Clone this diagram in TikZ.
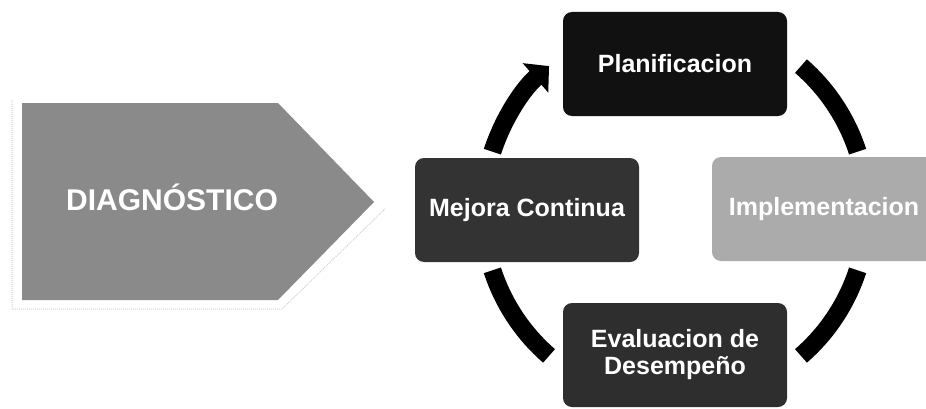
\documentclass[tikz,border=0pt]{standalone}
\usepackage{fontspec}
\setmainfont{Liberation Sans}
\usetikzlibrary{arrows.meta}

\definecolor{diaggray}{HTML}{8A8A8A}
\definecolor{planblack}{HTML}{111111}
\definecolor{mejoragray}{HTML}{333333}
\definecolor{implgray}{HTML}{ABABAB}
\definecolor{evalgray}{HTML}{2E2E2E}

\begin{document}
\begin{tikzpicture}[x=1pt, y=1pt,
	stage/.style={rounded corners=9pt, minimum width=224pt, minimum height=104pt,
		text=white, align=center, font=\fontsize{25}{27}\selectfont\bfseries},
	cyclearc/.style={line width=18pt, black}]
	\useasboundingbox (0,0) rectangle (926,408);

	%diagnostic arrow
	\draw[gray!35, densely dotted, line width=1pt] (12,308) -- (12,99) -- (282,99) -- (386,200);
	\fill[diaggray] (22,305) -- (278,305) -- (374,206) -- (278,108) -- (22,108) -- cycle;
	\node (diag) at (172,198) [anchor=base, text=white, font=\fontsize{30}{32}\selectfont\bfseries]{DIAGNÓSTICO};

	%cycle
	\coordinate (c) at (675,197);
	\draw[cyclearc, -{Triangle[width=38pt,length=18pt]}] (c) ++(162:192) arc[start angle=162, end angle=131, radius=192];
	\draw[cyclearc] (c) ++(49:192) arc[start angle=49, end angle=18, radius=192];
	\draw[cyclearc] (c) ++(-18:192) arc[start angle=-18, end angle=-49, radius=192];
	\draw[cyclearc] (c) ++(-131:192) arc[start angle=-131, end angle=-162, radius=192];

	\node (plan) at (675,344) [stage, fill=planblack]{Planificacion};
	\node (mejora) at (527,198) [stage, fill=mejoragray]{Mejora Continua};
	\node (impl) at (824,199) [stage, fill=implgray]{Implementacion};
	\node (eval) at (675,53) [stage, fill=evalgray]{Evaluacion de\\Desempeño};

\end{tikzpicture}
\end{document}
